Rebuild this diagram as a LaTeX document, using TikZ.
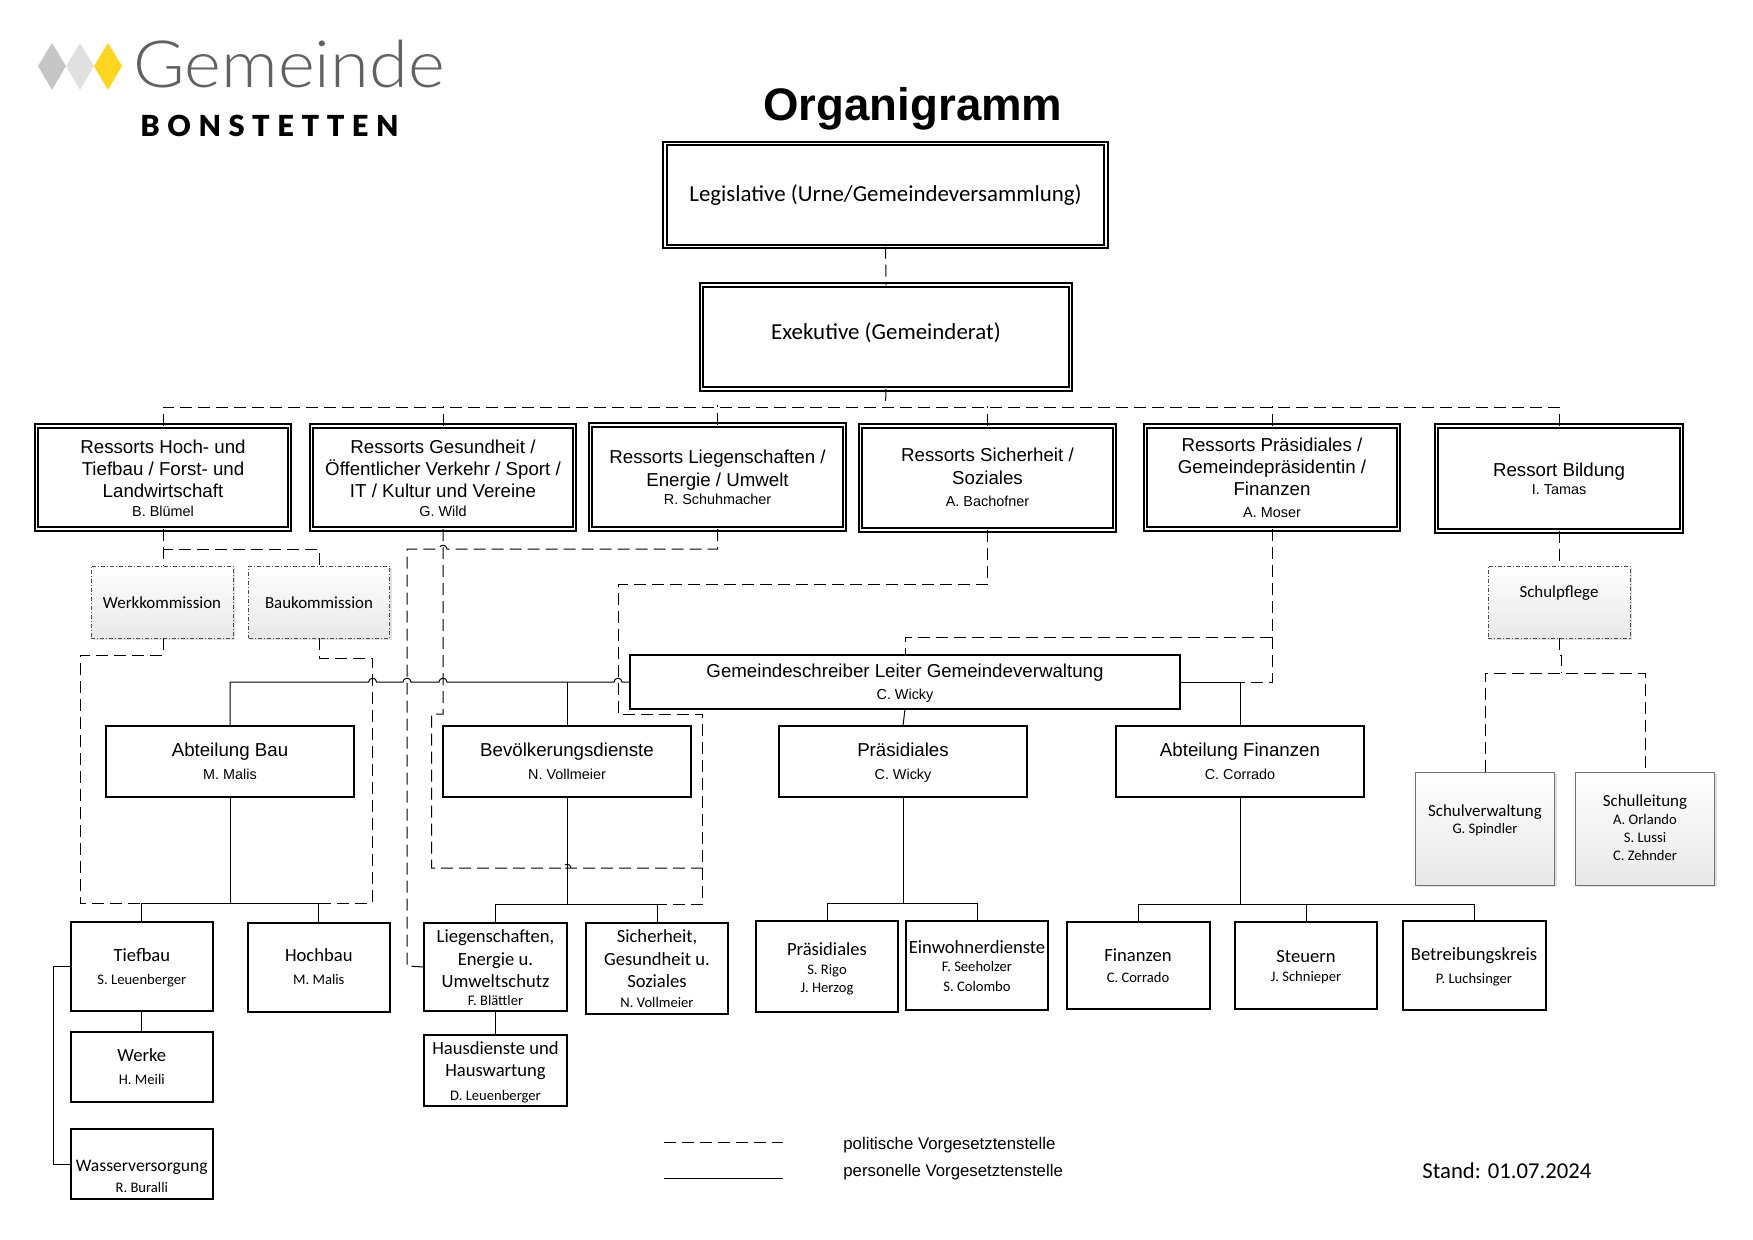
\documentclass[tikz,border=0pt]{standalone}
\usepackage{fontspec}
\usetikzlibrary{shadows}
\setmainfont{Liberation Sans}
\newfontfamily\calfont{Carlito}
\newfontfamily\logofont[FakeStretch=1.08]{Lato Light}
\newfontfamily\logobold[LetterSpace=26]{Lato Black}
\definecolor{logoA}{HTML}{C6C6C6}
\definecolor{logoB}{HTML}{E0E0E0}
\definecolor{logoC}{HTML}{FFD61F}
\newcommand{\klein}[1]{{\fontsize{7.2}{8}\selectfont #1}}
\newcommand{\kleinc}[1]{{\fontsize{7.3}{8}\selectfont #1}}
\newcommand{\jumpat}[2]{-- (#1+4,#2) .. controls (#1+4,#2-5) and (#1-4,#2-5) .. (#1-4,#2)}
\tikzset{
	sz/.style 2 args={minimum width=#1*0.5pt, minimum height=#2*0.5pt},
	tdn/.style={text height=#1*1pt, text depth=0pt},
	tup/.style={text height=0pt, text depth=#1*1pt},
	base/.style={inner sep=0pt, outer sep=0pt, align=center},
	rbox/.style={base, draw, line width=1pt, double=white, double distance=0.7pt, font=\fontsize{9.35}{11}\selectfont},
	ubox/.style={base, draw, line width=1pt, font=\fontsize{9.35}{11}\selectfont},
	cbox/.style={base, draw, line width=1pt, font=\calfont\fontsize{9.3}{11.2}\selectfont},
	gbox/.style={base, draw=black!70, line width=0.4pt, dash pattern=on 2pt off 1pt on 0.5pt off 1pt, top color=white, bottom color=black!9,
		drop shadow={shadow xshift=1pt, shadow yshift=-1pt, opacity=0.25}, font=\calfont\fontsize{8.45}{10}\selectfont},
	sbox/.style={gbox, solid, draw=black!55},
	polit/.style={line width=0.5pt, dash pattern=on 6pt off 3pt},
	pers/.style={line width=0.5pt},
}
\begin{document}
\begin{tikzpicture}[x=0.5pt, y=-0.5pt, line join=miter]
	\useasboundingbox (0,0) rectangle (1753,1239);
	% logo
	\foreach \xa/\col in {38/logoA,66/logoB,94/logoC}
		\fill[\col] (\xa,66)--(\xa+14,43)--(\xa+28,66)--(\xa+14,90)--cycle;
	\node[anchor=base west, inner sep=0pt, text=black!62, font=\logofont\fontsize{32.6}{34}\selectfont] (gemeinde) at (133,87) {Gemeinde};
	\node[anchor=base west, inner sep=0pt, font=\logobold\fontsize{14.5}{16}\selectfont] (bonstetten) at (140,136) {BONSTETTEN};
	\node[anchor=base, inner sep=0pt, font=\bfseries\fontsize{22.8}{26}\selectfont] (titel) at (913,120) {Organigramm};
	% obere Ebene
	\node[rbox, sz={441}{103}, tdn=6.5, font=\calfont\fontsize{11.45}{13}\selectfont] (legislative) at (885.5,195) {Legislative (Urne/Gemeindeversammlung)};
	\node[rbox, sz={369}{104}, tdn=2.5, font=\calfont\fontsize{11.45}{13}\selectfont] (exekutive) at (886,337) {Exekutive (Gemeinderat)};
	% Ressorts
	\node[rbox, sz={253}{103}, tdn=39] (r1) at (163,477.5) {Ressorts Hoch- und\\Tiefbau / Forst- und\\Landwirtschaft\\[-1.5pt]\klein{B. Blümel}};
	\node[rbox, sz={263}{103}, tdn=39] (r2) at (443,477.5) {Ressorts Gesundheit /\\Öffentlicher Verkehr / Sport /\\IT / Kultur und Vereine\\[-1.5pt]\klein{G. Wild}};
	\node[rbox, sz={254}{104}, tdn=27.5] (r3) at (717.5,477) {Ressorts Liegenschaften /\\[0.5pt]Energie / Umwelt\\[-2pt]\klein{R. Schuhmacher}};
	\node[rbox, sz={254}{104}, tdn=28.5] (r4) at (987.5,478) {Ressorts Sicherheit /\\[0.5pt]Soziales\\\klein{A. Bachofner}};
	\node[rbox, sz={253}{103}, tdn=40] (r5) at (1272,477.5) {Ressorts Präsidiales /\\Gemeindepräsidentin /\\Finanzen\\\klein{A. Moser}};
	\node[rbox, sz={245}{105}, tdn=16] (r6) at (1559,478.5) {Ressort Bildung\\[-2pt]\klein{I. Tamas}};
	% Kommissionen
	\node[gbox, sz={142}{72}, tdn=6.5] (werkkom) at (162,602) {Werkkommission};
	\node[gbox, sz={141}{72}, tdn=6.5] (baukom) at (319,602) {Baukommission};
	\node[gbox, sz={142}{72}, tup=4.5] (schulpf) at (1559,602) {Schulpflege};
	\node[sbox, sz={139}{113}, tdn=4.6] (schulv) at (1485,828.5) {Schulverwaltung\\[-1.5pt]\kleinc{G. Spindler}};
	\node[sbox, sz={139}{113}, tdn=32] (schull) at (1645,828.5) {Schulleitung\\[-1.3pt]\kleinc{A. Orlando}\\[-0.9pt]\kleinc{S. Lussi}\\[-0.9pt]\kleinc{C. Zehnder}};
	% Verwaltung
	\node[ubox, sz={550}{54}, tdn=17.5] (gem) at (905,682) {Gemeindeschreiber Leiter Gemeindeverwaltung\\\klein{C. Wicky}};
	\node[ubox, sz={248}{71}, tdn=18] (abtbau) at (230,761.5) {Abteilung Bau\\[0.5pt]\klein{M. Malis}};
	\node[ubox, sz={248}{71}, tdn=18] (bev) at (567,761.5) {Bevölkerungsdienste\\[0.5pt]\klein{N. Vollmeier}};
	\node[ubox, sz={248}{71}, tdn=18] (praes) at (903,761.5) {Präsidiales\\[0.5pt]\klein{C. Wicky}};
	\node[ubox, sz={248}{71}, tdn=18] (abtfin) at (1240,761.5) {Abteilung Finanzen\\[0.5pt]\klein{C. Corrado}};
	% Dienste
	\node[cbox, sz={142}{89}, tdn=18] (tiefbau) at (141.8,966) {Tiefbau\\\kleinc{S. Leuenberger}};
	\node[cbox, sz={142}{89}, tdn=17] (hochbau) at (318.8,967) {Hochbau\\\kleinc{M. Malis}};
	\node[cbox, sz={142}{70}, tdn=17] (werke) at (141.8,1067) {Werke\\\kleinc{H. Meili}};
	\node[cbox, sz={142}{70}, tdn=28, font=\calfont\fontsize{8.8}{11.2}\selectfont] (wasser) at (141.8,1164) {Wasserversorgung\\[-1pt]\kleinc{R. Buralli}};
	\node[cbox, sz={143}{88}, tdn=38] (liegen) at (495.5,967) {Liegenschaften,\\Energie u.\\Umweltschutz\\[-2.5pt]\kleinc{F. Blättler}};
	\node[cbox, sz={142}{91}, tdn=38.5] (sich) at (657,968.5) {Sicherheit,\\Gesundheit u.\\Soziales\\[-1.5pt]\kleinc{N. Vollmeier}};
	\node[cbox, sz={143}{71}, tdn=29.5] (haus) at (495.5,1070.5) {Hausdienste und\\Hauswartung\\[0.5pt]\kleinc{D. Leuenberger}};
	\node[cbox, sz={142}{91}, tdn=25.5] (prsub) at (827,966.5) {Präsidiales\\[-1.7pt]\kleinc{S. Rigo}\\[-2.5pt]\kleinc{J. Herzog}};
	\node[cbox, sz={142}{89}, tdn=26] (einw) at (977,965.5) {Einwohnerdienste\\[-2.5pt]\kleinc{F. Seeholzer}\\[-1pt]\kleinc{S. Colombo}};
	\node[cbox, sz={143}{87}, tdn=17.5] (fin) at (1138,965) {Finanzen\\[-0.5pt]\kleinc{C. Corrado}};
	\node[cbox, sz={142}{87}, tdn=16] (steuern) at (1306,965) {Steuern\\[-2pt]\kleinc{J. Schnieper}};
	\node[cbox, sz={143}{89}, tdn=17.5] (betr) at (1474,965.5) {Betreibungskreis\\\kleinc{P. Luchsinger}};
	% politische Linien
	\draw[polit] (legislative.south) -- (exekutive.north);
	\draw[polit] (exekutive.south) -- (885.5,407);
	\draw[polit] (r1.north) -- (163,407) -| (r6.north);
	\foreach \r in {r2,r3,r4,r5} \draw[polit] (\r.north) -- ++(0,-20);
	\draw[polit] (r1.south) -- (werkkom.north -| r1.south);
	\draw[polit] (r1.south) -- (163,549) -| (baukom.north);
	\draw[polit] (r3.south) -- (717.5,549) \jumpat{443}{549} -- (407,549) -- (407,966) -- (liegen.west);
	\draw[polit] (r2.south) -- (443,714) -- (431.5,714) -- (431.5,868) \jumpat{567}{868} -- (702.6,868);
	\draw[polit] (r4.south) -- (987.5,584) -- (618,584) -- (618,714) -- (702.6,714) -- (702.6,904) -| (sich.north);
	\draw[polit] (r5.south) -- (1272,682) -- (1240,682);
	\draw[polit] (1272,637) -| (gem.north);
	\draw[polit] (werkkom.south -| r1.south) -- (163,655) -- (80,655) -- (80,903) -- (141.8,903);
	\draw[polit] (baukom.south) -- (319,658) -- (372.6,658) -- (372.6,903) -- (318.8,903);
	\draw[polit] (r6.south) -- (schulpf.north);
	\draw[polit] (schulpf.south) -- (1559,655) -- (1561,655) -- (1561,673);
	\draw[polit] (schulv.north) |- (1561,673) -| (schull.north);
	% personelle Linien
	\draw[pers] (gem.west) \jumpat{618}{682} \jumpat{443}{682} \jumpat{407}{682} \jumpat{372.6}{682} -| (abtbau.north);
	\draw[pers] (bev.north) -- (567,682);
	\draw[pers] (gem.south) -- (praes.north);
	\draw[pers] (gem.east) -| (abtfin.north);
	\draw[pers] (abtbau.south) -- (230,903);
	\draw[pers] (tiefbau.north) -- (141.8,903) -| (hochbau.north);
	\draw[pers] (tiefbau.south) -- (werke.north);
	\draw[pers] (tiefbau.west) -- (53,966) |- (wasser.west);
	\draw[pers] (bev.south) -- (567,904);
	\draw[pers] (liegen.north) -- (495.5,904) -| (sich.north);
	\draw[pers] (liegen.south) -- (haus.north);
	\draw[pers] (praes.south) -- (903,903);
	\draw[pers] (prsub.north) -- (827,903) -| (einw.north);
	\draw[pers] (abtfin.south) -- (1240,904);
	\draw[pers] (fin.north) -- (1138,904) -| (betr.north);
	\draw[pers] (steuern.north) -- (1306,904);
	% Legende
	\coordinate (la) at (664,1142);
	\coordinate (lb) at (783,1142);
	\coordinate (lc) at (664,1178);
	\coordinate (ld) at (783,1178);
	\draw[polit] (la) -- (lb);
	\draw[pers] (lc) -- (ld);
	\node[anchor=west, inner sep=0pt, font=\fontsize{8.4}{10}\selectfont] (lpol) at (843,1145) {politische Vorgesetztenstelle};
	\node[anchor=west, inner sep=0pt, font=\fontsize{8.4}{10}\selectfont] (lper) at (843,1172) {personelle Vorgesetztenstelle};
	\node[anchor=west, inner sep=0pt, font=\calfont\fontsize{11.35}{13}\selectfont] (stand) at (1422,1170.7) {Stand: 01.07.2024};
\end{tikzpicture}
\end{document}
